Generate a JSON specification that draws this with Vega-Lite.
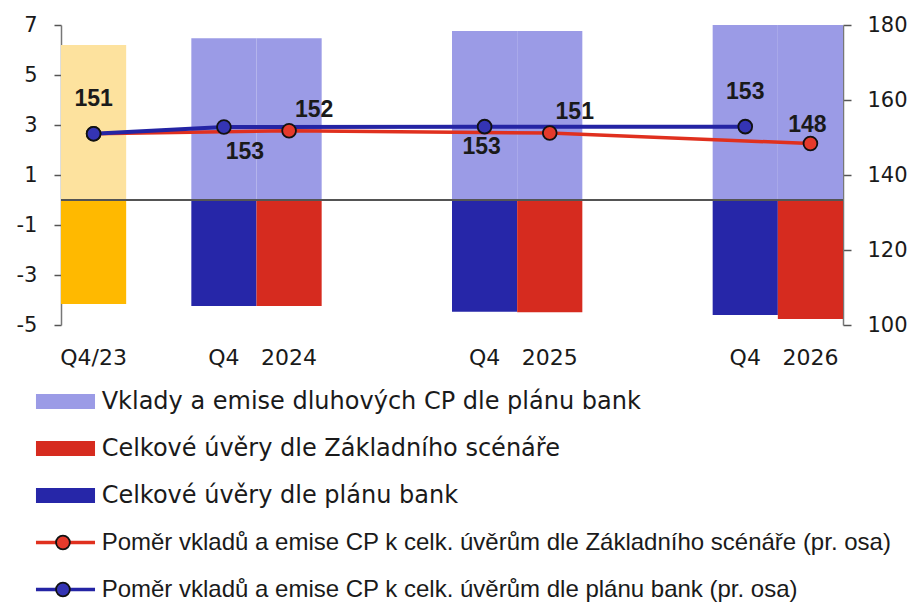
{
  "$schema": "https://vega.github.io/schema/vega-lite/v6.json",
  "background": "white",
  "padding": {"left": 16, "top": 14, "right": 2, "bottom": 0},
  "spacing": 10,
  "config": {"view": {"stroke": null}, "font": "DejaVu Sans"},
  "datasets": {
    "bars": [
      {"slot": "Q4/23", "series": "Vklady a emise dluhových CP (Q4/23)", "value": 6.2},
      {"slot": "Q4/23", "series": "Celkové úvěry (Q4/23)", "value": -4.16},
      {"slot": "Q4 2024", "series": "Vklady a emise dluhových CP dle plánu bank", "value": 6.47},
      {"slot": "2024", "series": "Vklady a emise dluhových CP dle plánu bank", "value": 6.47},
      {"slot": "Q4 2024", "series": "Celkové úvěry dle plánu bank", "value": -4.24},
      {"slot": "2024", "series": "Celkové úvěry dle Základního scénáře", "value": -4.24},
      {"slot": "Q4 2025", "series": "Vklady a emise dluhových CP dle plánu bank", "value": 6.76},
      {"slot": "2025", "series": "Vklady a emise dluhových CP dle plánu bank", "value": 6.76},
      {"slot": "Q4 2025", "series": "Celkové úvěry dle plánu bank", "value": -4.47},
      {"slot": "2025", "series": "Celkové úvěry dle Základního scénáře", "value": -4.49},
      {"slot": "Q4 2026", "series": "Vklady a emise dluhových CP dle plánu bank", "value": 7.0},
      {"slot": "2026", "series": "Vklady a emise dluhových CP dle plánu bank", "value": 7.0},
      {"slot": "Q4 2026", "series": "Celkové úvěry dle plánu bank", "value": -4.6},
      {"slot": "2026", "series": "Celkové úvěry dle Základního scénáře", "value": -4.76}
    ],
    "ratio": [
      {"slot": "Q4/23", "line": "zs", "series": "Poměr vkladů a emise CP k celk. úvěrům dle Základního scénáře (pr. osa)", "ratio": 151.0, "label": "151"},
      {"slot": "2024", "line": "zs", "series": "Poměr vkladů a emise CP k celk. úvěrům dle Základního scénáře (pr. osa)", "ratio": 151.8, "label": "152"},
      {"slot": "2025", "line": "zs", "series": "Poměr vkladů a emise CP k celk. úvěrům dle Základního scénáře (pr. osa)", "ratio": 151.2, "label": "151"},
      {"slot": "2026", "line": "zs", "series": "Poměr vkladů a emise CP k celk. úvěrům dle Základního scénáře (pr. osa)", "ratio": 148.4, "label": "148"},
      {"slot": "Q4/23", "line": "plan", "series": "Poměr vkladů a emise CP k celk. úvěrům dle plánu bank (pr. osa)", "ratio": 151.0, "label": "151"},
      {"slot": "Q4 2024", "line": "plan", "series": "Poměr vkladů a emise CP k celk. úvěrům dle plánu bank (pr. osa)", "ratio": 152.8, "label": "153"},
      {"slot": "Q4 2025", "line": "plan", "series": "Poměr vkladů a emise CP k celk. úvěrům dle plánu bank (pr. osa)", "ratio": 152.9, "label": "153"},
      {"slot": "Q4 2026", "line": "plan", "series": "Poměr vkladů a emise CP k celk. úvěrům dle plánu bank (pr. osa)", "ratio": 152.9, "label": "153"}
    ],
    "legend": [
      {"series": "Vklady a emise dluhových CP dle plánu bank", "kind": "bar", "line": "none"},
      {"series": "Celkové úvěry dle Základního scénáře", "kind": "bar", "line": "none"},
      {"series": "Celkové úvěry dle plánu bank", "kind": "bar", "line": "none"},
      {"series": "Poměr vkladů a emise CP k celk. úvěrům dle Základního scénáře (pr. osa)", "kind": "line", "line": "zs"},
      {"series": "Poměr vkladů a emise CP k celk. úvěrům dle plánu bank (pr. osa)", "kind": "line", "line": "plan"}
    ]
  },
  "vconcat": [
    {
      "width": 782,
      "height": 300,
      "layer": [
        {
          "data": {"name": "bars"},
          "layer": [
            {
              "mark": {"type": "bar"},
              "encoding": {
                "x": {
                  "field": "slot", "type": "ordinal", "sort": null,
                  "scale": {"domain": ["Q4/23", "m1", "Q4 2024", "2024", "m2", "m3", "Q4 2025", "2025", "m4", "m5", "Q4 2026", "2026"], "paddingInner": 0, "paddingOuter": 0},
                  "axis": {"title": null, "domain": false, "ticks": false, "labelPadding": 22, "labelFont": "DejaVu Sans", "labelFontSize": 22, "labelColor": "#1a1a1a", "labelAngle": 0, "labelOverlap": false, "grid": false,
                    "labelExpr": "indexof(datum.value,'m')==0 ? '' : (indexof(datum.value,'Q4 ')==0 ? 'Q4' : datum.value)"}
                },
                "y": {
                  "field": "value", "type": "quantitative", "stack": null,
                  "scale": {"domain": [-5, 7], "nice": false, "zero": false},
                  "axis": {"title": null, "orient": "left", "values": [-5, -3, -1, 1, 3, 5, 7], "tickSize": 7, "labelPadding": 17, "labelFont": "DejaVu Sans", "labelFontSize": 21, "labelColor": "#1a1a1a", "domainColor": "#777777", "tickColor": "#555555", "domainWidth": 1.5, "tickWidth": 1.5, "grid": false, "labelFlush": false,
                    "labelExpr": "datum.value < 0 ? '-' + abs(datum.value) : '' + datum.value"}
                },
                "color": {
                  "field": "series", "type": "nominal", "legend": null,
                  "scale": {
                    "domain": ["Vklady a emise dluhových CP dle plánu bank", "Celkové úvěry dle Základního scénáře", "Celkové úvěry dle plánu bank", "Poměr vkladů a emise CP k celk. úvěrům dle Základního scénáře (pr. osa)", "Poměr vkladů a emise CP k celk. úvěrům dle plánu bank (pr. osa)", "Vklady a emise dluhových CP (Q4/23)", "Celkové úvěry (Q4/23)"],
                    "range": ["#9B9BE6", "#D62B1F", "#2626A8", "#E0301E", "#2424A4", "#FDE29E", "#FFB900"]
                  }
                }
              }
            },
            {
              "mark": {"type": "rule", "color": "#555555", "strokeWidth": 1.5},
              "encoding": {"y": {"datum": 0, "type": "quantitative"}}
            }
          ]
        },
        {
          "data": {"name": "ratio"},
          "encoding": {
            "x": {"field": "slot", "type": "ordinal", "sort": null},
            "y": {
              "field": "ratio", "type": "quantitative",
              "scale": {"domain": [100, 180], "nice": false, "zero": false},
              "axis": {"title": null, "orient": "right", "values": [100, 120, 140, 160, 180], "tickSize": 8, "labelPadding": 16, "labelFont": "DejaVu Sans", "labelFontSize": 21, "labelColor": "#1a1a1a", "domainColor": "#777777", "tickColor": "#555555", "domainWidth": 1.5, "tickWidth": 1.5, "grid": false, "labelFlush": false}
            }
          },
          "layer": [
            {
              "transform": [{"filter": "datum.line == 'zs'"}],
              "mark": {"type": "line", "strokeWidth": 3.5},
              "encoding": {"color": {"field": "series", "type": "nominal", "legend": null}}
            },
            {
              "transform": [{"filter": "datum.line == 'plan'"}],
              "mark": {"type": "line", "strokeWidth": 4},
              "encoding": {"color": {"field": "series", "type": "nominal", "legend": null}}
            },
            {
              "transform": [{"filter": "datum.line == 'zs'"}],
              "mark": {"type": "point", "shape": "circle", "filled": true, "size": 190, "stroke": "#111111", "strokeWidth": 1.8, "opacity": 1},
              "encoding": {"fill": {"field": "line", "type": "nominal", "legend": null, "scale": {"domain": ["zs", "plan"], "range": ["#E53A2C", "#3434B4"]}}}
            },
            {
              "transform": [{"filter": "datum.line == 'plan'"}],
              "mark": {"type": "point", "shape": "circle", "filled": true, "size": 190, "stroke": "#111111", "strokeWidth": 1.8, "opacity": 1},
              "encoding": {"fill": {"field": "line", "type": "nominal", "legend": null}}
            },
            {
              "transform": [{"filter": "datum.line == 'plan' && (datum.slot == 'Q4/23' || datum.slot == 'Q4 2026')"}],
              "mark": {"type": "text", "font": "Liberation Sans", "fontWeight": "bold", "fontSize": 23, "color": "#1a1a1a", "dx": 0, "dy": -35, "baseline": "middle"},
              "encoding": {"text": {"field": "label"}}
            },
            {
              "transform": [{"filter": "datum.line == 'plan' && datum.slot == 'Q4 2024'"}],
              "mark": {"type": "text", "font": "Liberation Sans", "fontWeight": "bold", "fontSize": 23, "color": "#1a1a1a", "dx": 21, "dy": 25, "baseline": "middle"},
              "encoding": {"text": {"field": "label"}}
            },
            {
              "transform": [{"filter": "datum.line == 'plan' && datum.slot == 'Q4 2025'"}],
              "mark": {"type": "text", "font": "Liberation Sans", "fontWeight": "bold", "fontSize": 23, "color": "#1a1a1a", "dx": -3, "dy": 20, "baseline": "middle"},
              "encoding": {"text": {"field": "label"}}
            },
            {
              "transform": [{"filter": "datum.line == 'zs' && (datum.slot == '2024' || datum.slot == '2025')"}],
              "mark": {"type": "text", "font": "Liberation Sans", "fontWeight": "bold", "fontSize": 23, "color": "#1a1a1a", "dx": 25, "dy": -21, "baseline": "middle"},
              "encoding": {"text": {"field": "label"}}
            },
            {
              "transform": [{"filter": "datum.line == 'zs' && datum.slot == '2026'"}],
              "mark": {"type": "text", "font": "Liberation Sans", "fontWeight": "bold", "fontSize": 23, "color": "#1a1a1a", "dx": -3, "dy": -19, "baseline": "middle"},
              "encoding": {"text": {"field": "label"}}
            }
          ]
        }
      ],
      "resolve": {"scale": {"y": "independent"}}
    },
    {
      "width": 782,
      "height": 235,
      "data": {"name": "legend"},
      "encoding": {
        "y": {"field": "series", "type": "nominal", "sort": null, "scale": {"paddingInner": 0, "paddingOuter": 0}, "axis": null}
      },
      "layer": [
        {
          "transform": [{"filter": "datum.kind == 'bar'"}],
          "mark": {"type": "bar", "size": 15},
          "encoding": {
            "x": {"datum": -3.2, "type": "quantitative", "scale": {"domain": [0, 100], "nice": false, "zero": false}, "axis": null},
            "x2": {"datum": 4.35},
            "color": {
              "field": "series", "type": "nominal", "legend": null,
              "scale": {
                "domain": ["Vklady a emise dluhových CP dle plánu bank", "Celkové úvěry dle Základního scénáře", "Celkové úvěry dle plánu bank", "Poměr vkladů a emise CP k celk. úvěrům dle Základního scénáře (pr. osa)", "Poměr vkladů a emise CP k celk. úvěrům dle plánu bank (pr. osa)", "Vklady a emise dluhových CP (Q4/23)", "Celkové úvěry (Q4/23)"],
                "range": ["#9B9BE6", "#D62B1F", "#2626A8", "#E0301E", "#2424A4", "#FDE29E", "#FFB900"]
              }
            }
          }
        },
        {
          "transform": [{"filter": "datum.kind == 'line'"}],
          "mark": {"type": "rule", "strokeWidth": 3.5},
          "encoding": {
            "x": {"datum": -3.2, "type": "quantitative"},
            "x2": {"datum": 4.35},
            "color": {"field": "series", "type": "nominal", "legend": null}
          }
        },
        {
          "transform": [{"filter": "datum.kind == 'line'"}],
          "mark": {"type": "point", "shape": "circle", "filled": true, "size": 190, "stroke": "#111111", "strokeWidth": 1.8, "opacity": 1},
          "encoding": {
            "x": {"datum": 0.25, "type": "quantitative"},
            "fill": {"field": "line", "type": "nominal", "legend": null, "scale": {"domain": ["zs", "plan"], "range": ["#E53A2C", "#3434B4"]}}
          }
        },
        {
          "transform": [{"filter": "datum.kind == 'bar'"}],
          "mark": {"type": "text", "font": "DejaVu Sans", "fontSize": 24, "color": "#1a1a1a", "align": "left", "baseline": "middle"},
          "encoding": {
            "x": {"datum": 5.2, "type": "quantitative"},
            "text": {"field": "series"}
          }
        },
        {
          "transform": [{"filter": "datum.kind == 'line'"}],
          "mark": {"type": "text", "font": "Liberation Sans", "fontSize": 24, "color": "#1a1a1a", "align": "left", "baseline": "middle"},
          "encoding": {
            "x": {"datum": 5.2, "type": "quantitative"},
            "text": {"field": "series"}
          }
        }
      ]
    }
  ]
}
